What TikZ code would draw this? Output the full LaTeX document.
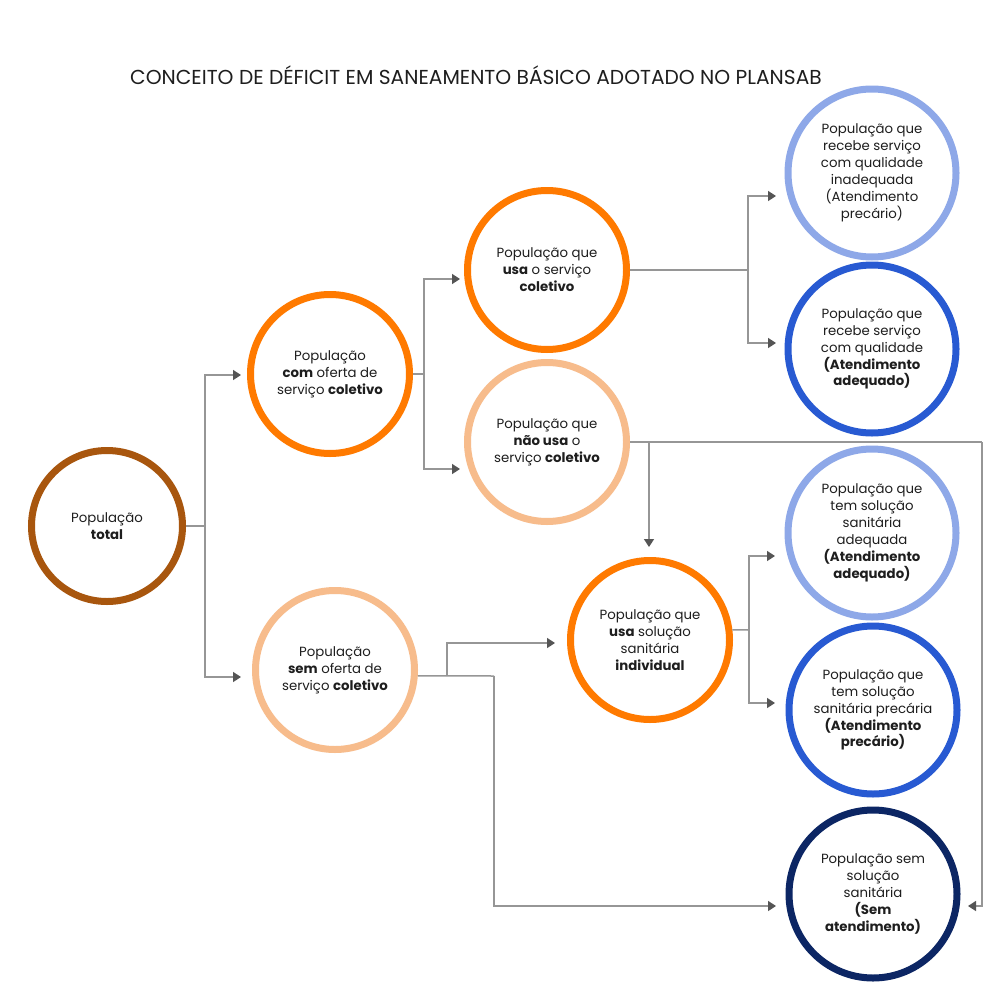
\documentclass[tikz,border=0pt]{standalone}
\usepackage{fontspec}
\setmainfont{Poppins}
\usetikzlibrary{arrows.meta}
\definecolor{cbrown}{RGB}{168,86,14}
\definecolor{corange}{RGB}{255,122,0}
\definecolor{clorange}{RGB}{247,188,140}
\definecolor{clblue}{RGB}{142,168,232}
\definecolor{cblue}{RGB}{40,90,210}
\definecolor{cnavy}{RGB}{12,38,100}
\definecolor{ctext}{RGB}{30,30,30}
\definecolor{cline}{RGB}{150,150,150}
\definecolor{carrow}{RGB}{85,85,85}
\begin{document}
\begin{tikzpicture}[x=1pt,y=-1pt,
  circ/.style={circle, draw, line width=7pt, align=center, inner sep=0pt,
    font=\fontsize{13.3}{16.9}\selectfont, text=ctext},
  csmall/.style={minimum size=151pt},
  cmid/.style={minimum size=159pt},
  cbig/.style={minimum size=168pt},
  conn/.style={draw=cline, line width=1.5pt},
  arr/.style={conn, -{Triangle[length=8pt,width=10pt,color=carrow]}}]
\fill[white] (0,0) rectangle (1000,1001);
\path[use as bounding box] (0,0) rectangle (1000,1001);

\node[font=\fontsize{20.2}{24}\selectfont, text=ctext] (title) at (476,75)
  {CONCEITO DE DÉFICIT EM SANEAMENTO BÁSICO ADOTADO NO PLANSAB};

\node[circ,csmall,draw=cbrown] (ntot) at (107,526) {População\\\textbf{total}};
\node[circ,cmid,draw=corange] (ncom) at (330,374) {População\\\textbf{com} oferta de\\serviço \textbf{coletivo}};
\node[circ,cmid,draw=clorange] (nsem) at (335,670) {População\\\textbf{sem} oferta de\\serviço \textbf{coletivo}};
\node[circ,cmid,draw=corange] (nusa) at (547,270) {População que\\\textbf{usa} o serviço\\\textbf{coletivo}};
\node[circ,cmid,draw=clorange] (nnao) at (547,442) {População que\\\textbf{não usa} o\\serviço \textbf{coletivo}};
\node[circ,cmid,draw=corange] (nind) at (650,640) {População que\\\textbf{usa} solução\\sanitária\\\textbf{individual}};
\node[circ,cbig,draw=clblue] (ninad) at (872,173) {População que\\recebe serviço\\com qualidade\\inadequada\\(Atendimento\\precário)};
\node[circ,cbig,draw=cblue] (nadq) at (872,349) {População que\\recebe serviço\\com qualidade\\\textbf{(Atendimento}\\\textbf{adequado)}};
\node[circ,cbig,draw=clblue] (nsadq) at (872,533) {População que\\tem solução\\sanitária\\adequada\\\textbf{(Atendimento}\\\textbf{adequado)}};
\node[circ,cbig,draw=cblue] (nprec) at (873,710) {População que\\tem solução\\sanitária precária\\\textbf{(Atendimento}\\\textbf{precário)}};
\node[circ,cbig,draw=cnavy] (nsemat) at (873,894) {População sem\\solução\\sanitária\\\textbf{(Sem}\\\textbf{atendimento)}};

% junctions and arrow ends
\coordinate (jT) at (205,526);
\coordinate (aCom) at (241,375);
\coordinate (aSem) at (241,677);
\coordinate (jC) at (424,374);
\coordinate (aUsa) at (460,279);
\coordinate (aNao) at (460,469);
\coordinate (jU) at (748,270);
\coordinate (aInad) at (776,196);
\coordinate (aAdq) at (776,343);
\coordinate (jN1) at (649,442);
\coordinate (jN2) at (982,442);
\coordinate (aIndTop) at (649,547);
\coordinate (aSemR) at (968,906);
\coordinate (jS) at (447,676);
\coordinate (jS2) at (494,676);
\coordinate (aIndL) at (555,643);
\coordinate (aSemL) at (776,906);
\coordinate (jI) at (749,630);
\coordinate (aSadq) at (775,556);
\coordinate (aPrec) at (775,703);

\draw[conn] (ntot) -- (jT);
\draw[arr] (jT) |- (aCom);
\draw[arr] (jT) |- (aSem);

\draw[conn] (ncom) -- (jC);
\draw[arr] (jC) |- (aUsa);
\draw[arr] (jC) |- (aNao);

\draw[conn] (nusa) -- (jU);
\draw[arr] (jU) |- (aInad);
\draw[arr] (jU) |- (aAdq);

\draw[conn] (nnao) -- (jN2);
\draw[arr] (jN2) |- (aSemR);
\draw[arr] (jN1) -- (aIndTop);

\draw[conn] (nsem.-4) -- (jS2);
\draw[arr] (jS) |- (aIndL);
\draw[arr] (jS2) |- (aSemL);

\draw[conn] (nind.7) -- (jI);
\draw[arr] (jI) |- (aSadq);
\draw[arr] (jI) |- (aPrec);
\end{tikzpicture}
\end{document}
